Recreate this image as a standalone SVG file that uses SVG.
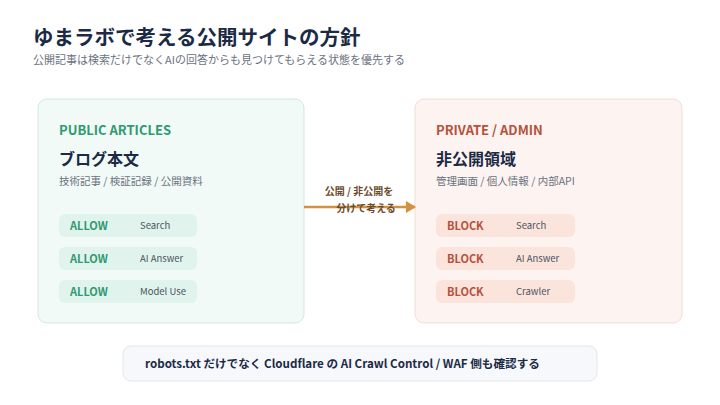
<svg xmlns="http://www.w3.org/2000/svg" width="720" height="405" viewBox="0 0 720 405">
<style>
text{font-family:"Noto Sans CJK JP","Noto Sans",sans-serif}
.t{font-size:20.5px;font-weight:700;fill:#1b2a45}
.sub{font-size:11px;fill:#6b7280}
.tag{font-size:13px;font-weight:700}
.h{font-size:16px;font-weight:700;fill:#1b2a45}
.d{font-size:10.5px;fill:#6b7280}
.pk{font-size:11px;font-weight:700}
.pv{font-size:9.5px;fill:#4b5563}
</style>
<defs><marker id="ah" markerWidth="10" markerHeight="12" refX="9" refY="6" orient="auto" markerUnits="userSpaceOnUse"><path d="M0,0L10,6L0,12Z" fill="#d4913f"/></marker></defs>
<rect width="720" height="405" fill="#fff"/>
<text x="33" y="45" class="t">ゆまラボで考える公開サイトの方針</text>
<text x="33" y="64" class="sub">公開記事は検索だけでなくAIの回答からも見つけてもらえる状態を優先する</text>
<g id="public">
<rect x="38" y="99" width="266" height="224" rx="9" fill="#f1faf6" stroke="#cfe9df"/>
<text x="59" y="135" class="tag" fill="#2f9a72">PUBLIC ARTICLES</text>
<text x="59" y="165" class="h">ブログ本文</text>
<text x="59" y="185" class="d">技術記事 / 検証記録 / 公開資料</text>
<rect x="59" y="214" width="138" height="23" rx="6" fill="#e0f3ec"/>
<text x="70" y="230" class="pk" fill="#2f9a72">ALLOW</text><text x="140" y="229" class="pv">Search</text>
<rect x="59" y="247" width="138" height="23" rx="6" fill="#e0f3ec"/>
<text x="70" y="263" class="pk" fill="#2f9a72">ALLOW</text><text x="140" y="262" class="pv">AI Answer</text>
<rect x="59" y="280" width="138" height="23" rx="6" fill="#e0f3ec"/>
<text x="70" y="296" class="pk" fill="#2f9a72">ALLOW</text><text x="140" y="295" class="pv">Model Use</text>
</g>
<g id="private">
<rect x="415" y="99" width="267" height="224" rx="9" fill="#fdf4f1" stroke="#f1dcd5"/>
<text x="436" y="135" class="tag" fill="#b5523b">PRIVATE / ADMIN</text>
<text x="436" y="165" class="h">非公開領域</text>
<text x="436" y="185" class="d">管理画面 / 個人情報 / 内部API</text>
<rect x="436" y="214" width="139" height="23" rx="6" fill="#fbe4dc"/>
<text x="447" y="230" class="pk" fill="#b5523b">BLOCK</text><text x="516" y="229" class="pv">Search</text>
<rect x="436" y="247" width="139" height="23" rx="6" fill="#fbe4dc"/>
<text x="447" y="263" class="pk" fill="#b5523b">BLOCK</text><text x="516" y="262" class="pv">AI Answer</text>
<rect x="436" y="280" width="139" height="23" rx="6" fill="#fbe4dc"/>
<text x="447" y="296" class="pk" fill="#b5523b">BLOCK</text><text x="516" y="295" class="pv">Crawler</text>
</g>
<g id="connectors">
<line x1="304" y1="207" x2="415" y2="207" stroke="#d4913f" stroke-width="2.5" marker-end="url(#ah)"/>
<text x="359" y="195" text-anchor="middle" font-size="10" font-weight="700" fill="#6b4a2a">公開 / 非公開を</text>
<text x="366" y="212" text-anchor="middle" font-size="10" font-weight="700" fill="#6b4a2a">分けて考える</text>
</g>
<g id="note">
<rect x="123" y="346" width="474" height="35" rx="8" fill="#f6f8fb" stroke="#e2e6ee"/>
<text x="145" y="368" font-size="11.6" font-weight="700" fill="#1b2a45">robots.txt だけでなく Cloudflare の AI Crawl Control / WAF 側も確認する</text>
</g>
</svg>
